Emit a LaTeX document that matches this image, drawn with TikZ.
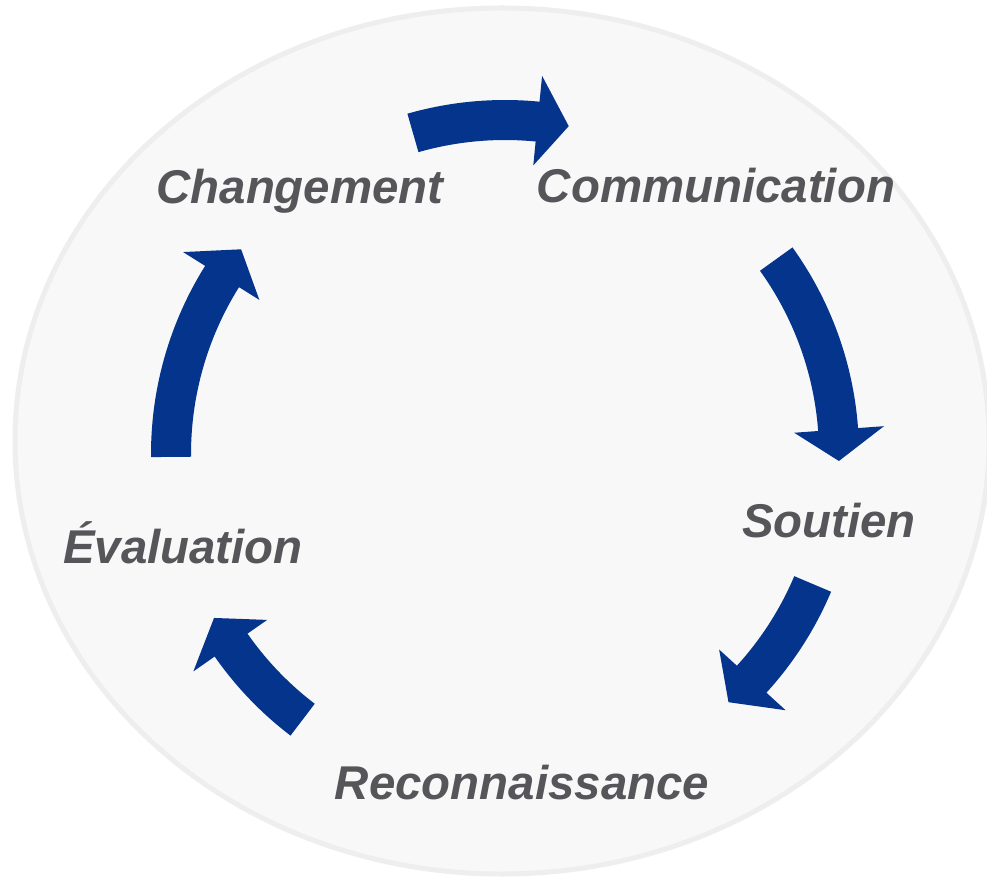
\documentclass[tikz,border=0pt]{standalone}
\usepackage{fontspec}
\setmainfont{Liberation Sans}
\definecolor{arrowblue}{RGB}{4,52,140}
\definecolor{labelgray}{RGB}{86,86,90}
\definecolor{discfill}{RGB}{248,248,248}
\definecolor{discline}{RGB}{238,238,238}
\begin{document}
\begin{tikzpicture}[x=1pt,y=1pt,
  label/.style={font=\fontsize{47.4}{52}\selectfont\bfseries\itshape, text=labelgray, inner sep=0pt, anchor=base},
  blockarrow/.style={fill=arrowblue, draw=none}]
\useasboundingbox (0,0) rectangle (987,879);
\fill[white] (0,0) rectangle (987,879);
% disc
\filldraw[fill=discfill, draw=discline, line width=5pt] (502,438) ellipse [x radius=487, y radius=433];
% arrows on a ring around (505,425)
\newcommand{\cyclearrow}[3]{%
  \fill[blockarrow] (#1:354) arc[start angle=#1, end angle=#2, radius=354]
    -- (#2:380) -- (#3:334) -- (#2:290) -- (#2:314)
    arc[start angle=#2, end angle=#1, radius=314] -- cycle;}
\begin{scope}[shift={(505,425)}]
  \cyclearrow{106}{84.4}{79}
  \cyclearrow{35.7}{4.2}{-1.2}
  \cyclearrow{-22.9}{-42.4}{-48}
  \cyclearrow{-127.3}{-145.1}{-150.6}
  \cyclearrow{180.5}{147.9}{142.2}
\end{scope}
% labels
\node[label] (chg) at (300,675) {Changement};
\node[label] (com) at (716,676) {Communication};
\node[label] (sou) at (829,342) {Soutien};
\node[label] (eva) at (183,316) {Évaluation};
\node[label] (rec) at (522,80) {Reconnaissance};
\end{tikzpicture}
\end{document}
